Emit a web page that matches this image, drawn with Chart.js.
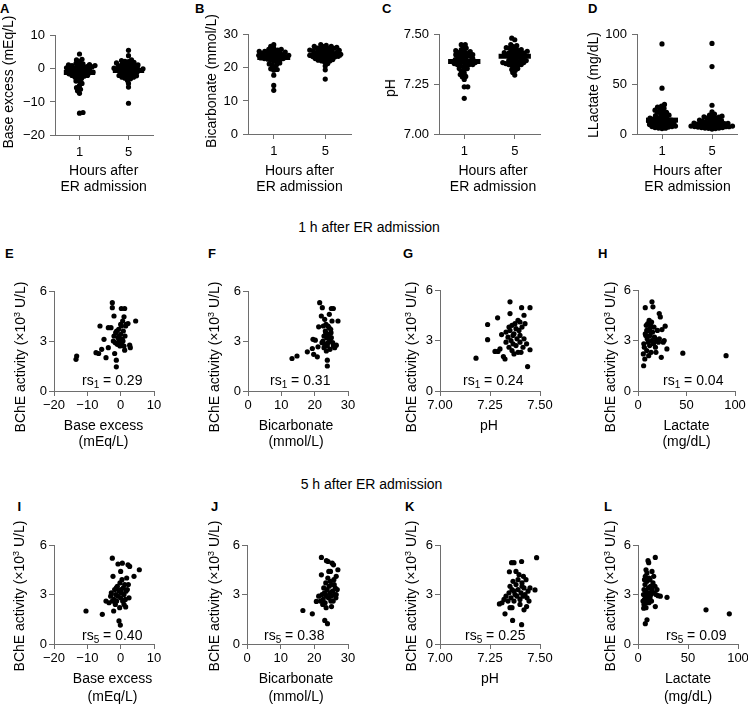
<!DOCTYPE html>
<html><head><meta charset="utf-8">
<script src="https://cdn.jsdelivr.net/npm/chart.js@4.4.1/dist/chart.umd.min.js"></script>
<style>
html,body{margin:0;padding:0;background:#fff}
body{width:748px;height:705px;overflow:hidden;position:relative;font-family:"Liberation Sans",Arial,Helvetica,sans-serif;color:#000}
canvas{position:absolute}
.t{position:absolute;white-space:nowrap;font-size:14px;line-height:16px;text-align:center;transform:translateX(-50%)}
.yt{position:absolute;white-space:nowrap;font-size:14px;line-height:16px;transform:translate(-50%,-50%) rotate(-90deg)}
.lt{position:absolute;font-weight:bold;font-size:13px;line-height:13px}
.rs{position:absolute;white-space:nowrap;font-size:14px;line-height:16px}
sub{font-size:10px;vertical-align:-3px;line-height:0}
sup{font-size:9px;vertical-align:5px;line-height:0}
</style></head><body>
<script>
// ---------------- DATA ----------------
const hourLabels = ['1', '5'];
const hourTicks = [0.5, 1.5];
const beTicks = [-20, -10, 0, 10];
const bicarbTicks = [0, 10, 20, 30];
const phTicks = [7.00, 7.25, 7.50];
const lactateTicks = [0, 50, 100];
const bcheTicks = [0, 3, 6];

// medians shown as bars in panels A-D  [1 h, 5 h]
const medBE = [-1.1, -0.5];
const medBicarb = [23.1, 23.9];
const medPH = [7.366, 7.392];
const medLactate = [14, 9];

// 1 h after admission (panels E-H; x values also used in A-D, group "1")
const be1 = [-13.4,-13.2,-7.4,-6.6,-6.2,-5.7,-5.0,-4.4,-3.7,-3.7,-2.9,-2.5,-2.5,-2.0,-1.8,-1.3,-1.3,-2.2,-2.0,-1.6,-1.2,-1.0,-0.8,-0.6,-0.4,-0.2,0.0,0.0,0.2,0.2,0.3,0.5,0.6,0.8,1.0,1.0,1.2,1.2,1.3,1.5,1.7,2.2,2.7,2.9,4.5,-1.5,-0.5,0.7];
const bcheBE1 = [1.9,2.1,2.3,2.25,3.9,2.5,3.1,2.0,2.6,3.8,3.8,5.3,5.0,4.5,2.25,1.85,1.45,3.0,3.3,2.9,3.6,2.8,3.2,3.7,3.0,2.7,4.0,3.4,4.95,3.9,2.9,3.1,4.2,3.6,4.45,2.7,4.95,2.45,3.3,3.9,4.0,4.05,2.75,2.6,4.2,3.5,3.3,3.0];

const bicarb1 = [13.2,14.7,17.8,19.3,19.7,20.8,19.5,20.2,21.0,21.5,22.3,21.2,22.0,23.8,23.8,25.0,25.6,27.0,26.5,26.0,22.5,22.8,23.0,23.2,23.4,23.6,23.8,24.0,24.2,24.4,24.5,24.6,24.8,25.0,25.2,25.4,22.6,23.0,23.5,24.0,24.9,25.6,22.2,23.3,24.3,22.8];
const bcheBicarb1 = [1.95,2.1,2.35,2.55,2.2,2.05,3.1,3.05,2.65,5.3,5.0,3.85,4.5,1.85,1.5,4.95,4.95,4.2,2.75,2.6,3.0,3.3,2.8,3.6,4.0,3.2,2.7,3.9,3.4,4.6,3.0,2.5,3.7,3.2,4.2,2.9,3.9,4.3,2.4,2.9,3.5,2.7,2.9,3.5,3.8,2.6];

const ph1 = [7.18,7.238,7.238,7.288,7.275,7.29,7.30,7.317,7.325,7.308,7.35,7.35,7.408,7.45,7.42,7.438,7.45,7.433,7.33,7.34,7.345,7.35,7.355,7.36,7.365,7.37,7.375,7.38,7.385,7.39,7.395,7.40,7.40,7.405,7.41,7.415,7.42,7.425,7.36,7.38,7.39,7.33,7.37,7.40,7.345,7.365];
const bchePH1 = [1.95,3.95,3.05,4.35,2.35,2.35,2.5,2.05,1.9,3.35,5.3,4.6,4.95,4.95,4.5,1.45,2.45,2.8,2.9,3.2,2.6,3.6,3.0,3.9,2.8,3.4,4.0,2.7,3.1,4.2,3.6,2.9,3.3,2.3,3.8,2.6,3.1,4.0,2.4,3.7,2.3,3.5,2.2,4.1,3.8,3.3];

const lactate1 = [5.8,7.5,14.4,15.4,21.9,23.0,24.7,28.0,29.8,24.0,46.2,90.8,5.5,6.0,6.5,7.0,8.0,8.5,9.0,9.5,10.0,10.5,11.0,11.5,12.0,12.5,13.0,13.5,14.0,15.0,16.0,17.0,18.0,19.0,20.0,21.0,22.0,26.0,27.0,9.0,12.0,14.0,16.5,7.5,18.5,11.0];
const bcheLactate1 = [1.5,4.95,5.3,5.0,4.6,4.4,3.65,3.85,2.5,2.0,2.25,2.1,2.2,2.8,2.6,1.9,3.3,3.9,2.4,3.1,4.0,2.9,3.6,4.2,2.7,3.3,3.9,2.3,3.0,3.5,2.8,3.2,2.6,3.0,3.6,2.9,3.1,2.9,3.0,3.6,3.7,4.1,3.8,3.4,2.3,2.1];

// 5 h after admission (panels I-L; x values also used in A-D, group "5")
const be5 = [-10.4,-5.5,-2.5,-2.3,-4.4,-3.5,-2.1,-0.8,0.5,2.2,2.7,0.0,5.6,4.0,-0.5,-0.1,1.5,-0.3,2.5,-3.0,-2.8,-2.0,-1.8,-1.5,-1.2,-1.0,-0.8,-0.5,-0.2,0.0,0.2,0.4,0.6,0.8,1.0,1.2,1.4,1.6,1.8,2.0,2.3,-1.3,0.1,-2.5,1.0,-1.6];
const bcheBE5 = [2.0,1.8,5.2,4.1,2.6,2.5,2.0,4.85,4.9,4.8,4.7,4.4,4.5,4.1,1.4,1.15,2.25,2.2,2.8,2.9,3.1,2.7,3.3,3.0,2.6,3.5,2.9,3.2,3.7,2.8,3.1,3.9,2.6,3.4,3.0,3.6,2.7,3.2,4.0,3.3,3.6,3.4,3.3,2.6,2.4,2.4];

const bicarb5 = [16.6,19.4,22.1,22.1,23.6,24.1,25.3,25.7,27.0,26.5,23.1,23.9,25.1,20.6,21.3,21.8,22.3,22.6,22.8,23.0,23.2,23.4,23.6,23.8,24.0,24.2,24.4,24.6,24.8,25.0,25.2,25.4,25.6,25.8,26.0,26.2,26.4,26.8,24.3,23.5,22.5,24.7,25.9,23.3,24.9,26.5];
const bcheBicarb5 = [2.03,1.83,5.25,4.19,5.05,5.0,4.9,4.8,4.5,4.1,1.43,1.23,2.27,2.58,2.9,2.6,3.0,2.7,3.4,3.1,2.5,3.7,2.9,3.3,4.0,2.8,3.5,3.1,4.4,2.9,3.6,3.2,2.6,3.9,3.0,3.4,2.8,3.3,4.4,2.2,2.4,3.8,3.6,3.0,2.6,3.0];

const ph5 = [7.297,7.325,7.363,7.408,7.483,7.358,7.37,7.408,7.347,7.417,7.433,7.42,7.475,7.31,7.32,7.33,7.34,7.345,7.35,7.355,7.36,7.365,7.37,7.375,7.38,7.385,7.39,7.395,7.40,7.405,7.41,7.415,7.42,7.425,7.43,7.44,7.45,7.36,7.38,7.40,7.39,7.35,7.435,7.37,7.41,7.445];
const bchePH5 = [2.43,1.83,1.43,1.17,5.23,4.93,4.93,5.0,4.38,4.1,2.27,2.07,3.28,2.5,2.7,2.9,2.6,3.1,3.5,2.8,3.3,3.8,2.6,3.0,3.6,2.9,3.3,4.2,2.7,3.1,3.7,2.9,3.4,3.0,3.9,3.2,3.4,2.2,4.4,2.4,3.9,2.2,2.8,3.2,3.5,2.6];

const lactate5 = [17.3,10.0,10.7,8.0,7.3,14.0,15.7,29.0,68.0,91.3,9.0,7.3,5.7,17.3,20.0,22.3,5.0,5.5,6.0,6.5,7.0,7.5,8.0,8.5,9.0,9.5,10.0,10.5,11.0,11.5,12.0,12.5,13.0,14.0,15.0,16.0,17.0,18.0,6.0,9.0,12.0,8.0,13.5,19.0,6.5,11.0];
const bcheLactate5 = [5.25,5.05,4.93,4.5,4.1,4.4,4.1,2.83,2.07,1.83,1.47,1.23,2.17,2.27,2.93,2.9,2.6,3.0,3.3,2.7,3.6,2.9,3.2,2.5,3.8,3.0,2.7,3.4,4.0,3.1,2.8,3.5,3.0,3.3,3.7,3.1,3.5,3.0,2.4,4.3,3.9,2.2,2.6,3.3,3.9,2.5];

// ---------------- RENDERING ----------------
Chart.defaults.font.family = "'Liberation Sans', Arial, Helvetica, sans-serif";
Chart.defaults.font.size = 13;
Chart.defaults.color = '#000';
const AXIS = '#6e6e6e';

function fmt(dec) {
  return v => (dec ? Number(v).toFixed(dec) : String(v)).replace('-', '\u2212');
}
function axis(min, max, ticks, cb, pad) {
  return {
    type: 'linear', min, max,
    afterBuildTicks: s => { s.ticks = ticks.map(v => ({ value: v })); },
    ticks: { callback: cb, padding: pad, autoSkip: false, maxRotation: 0, color: '#000', font: { size: 13 } },
    grid: { drawOnChartArea: false, drawTicks: true, tickLength: 5, color: AXIS, lineWidth: 1 },
    border: { display: true, color: AXIS, width: 1 }
  };
}
function makePanel(a, xAxis, yAxis, datasets) {
  const PL = 56, PT = 12, PR = 26, PB = 34;
  const c = document.createElement('canvas');
  const w = (a.R - a.L) + PL + PR, h = (a.B - a.T) + PT + PB;
  c.width = w; c.height = h;
  c.style.left = (a.L - PL) + 'px'; c.style.top = (a.T - PT) + 'px';
  c.style.width = w + 'px'; c.style.height = h + 'px';
  document.body.appendChild(c);
  xAxis.afterFit = s => { s.height = PB; };
  yAxis.afterFit = s => { s.width = PL; };
  new Chart(c, {
    type: 'scatter',
    data: { datasets },
    options: {
      responsive: false, animation: false, devicePixelRatio: 1, events: [],
      layout: { padding: { left: 0, top: PT, right: PR, bottom: 0 } },
      plugins: { legend: { display: false }, tooltip: { enabled: false } },
      scales: { x: xAxis, y: yAxis }
    }
  });
}
// beeswarm layout: horizontal offsets (px) so dots of one group do not pile up
function swarm(vals, lo, hi, h, d) {
  const idx = vals.map((v, i) => i).sort((p, q) => vals[p] - vals[q]);
  const placed = [], off = new Array(vals.length);
  for (const i of idx) {
    const y = (vals[i] - lo) / (hi - lo) * h;
    let best = 0;
    for (let k = 0; k < 400; k++) {
      const cands = k === 0 ? [0] : (k % 2 ? [k * 0.5, -k * 0.5] : [-k * 0.5, k * 0.5]);
      let f = null;
      for (const x of cands) {
        if (placed.every(p => (p.x - x) ** 2 + (p.y - y) ** 2 >= d * d)) { f = x; break; }
      }
      if (f !== null) { best = f; break; }
    }
    off[i] = best; placed.push({ x: best, y });
  }
  return off;
}
function pointsDS(data) {
  return { type: 'scatter', data, pointRadius: 2.6, pointBackgroundColor: '#000', pointBorderWidth: 0, borderWidth: 0, clip: false };
}
function dotPanel(a, groups, meds, lo, hi, yTicks, dec) {
  const pxX = (a.R - a.L) / 2, h = a.B - a.T;
  const pts = [];
  groups.forEach((vals, gi) => {
    const off = swarm(vals, lo, hi, h, 3.1);
    vals.forEach((v, i) => pts.push({ x: hourTicks[gi] + off[i] / pxX, y: v }));
  });
  const bars = meds.map((m, gi) => ({
    type: 'line', data: [{ x: hourTicks[gi] - 0.32, y: m }, { x: hourTicks[gi] + 0.32, y: m }],
    borderColor: '#000', borderWidth: 5, pointRadius: 0, borderCapStyle: 'butt', clip: false, showLine: true
  }));
  makePanel(a,
    axis(0, 2, hourTicks, (v, i) => hourLabels[i], 5),
    axis(lo, hi, yTicks, fmt(dec), 5),
    [...bars, pointsDS(pts)]);
}
function scatterPanel(a, xs, ys, lo, hi, xTicks, dec) {
  makePanel(a,
    axis(lo, hi, xTicks, fmt(dec), 2),
    axis(0, 6, bcheTicks, fmt(0), 2),
    [pointsDS(xs.map((x, i) => ({ x, y: ys[i] })))]);
}

// top row
dotPanel({ L: 55, T: 35, R: 153, B: 135 }, [be1, be5], medBE, -20, 10, beTicks, 0);
dotPanel({ L: 248, T: 34, R: 351, B: 134 }, [bicarb1, bicarb5], medBicarb, 0, 30, bicarbTicks, 0);
dotPanel({ L: 439, T: 34, R: 540, B: 134 }, [ph1, ph5], medPH, 7.0, 7.5, phTicks, 2);
dotPanel({ L: 637, T: 34, R: 737, B: 134 }, [lactate1, lactate5], medLactate, 0, 100, lactateTicks, 0);
// middle row
scatterPanel({ L: 54, T: 291, R: 154, B: 391 }, be1, bcheBE1, -20, 10, beTicks, 0);
scatterPanel({ L: 248, T: 291, R: 348, B: 391 }, bicarb1, bcheBicarb1, 0, 30, bicarbTicks, 0);
scatterPanel({ L: 440, T: 290, R: 540, B: 391 }, ph1, bchePH1, 7.0, 7.5, phTicks, 2);
scatterPanel({ L: 638, T: 290, R: 735, B: 391 }, lactate1, bcheLactate1, 0, 100, lactateTicks, 0);
// bottom row
scatterPanel({ L: 54, T: 545, R: 154, B: 644 }, be5, bcheBE5, -20, 10, beTicks, 0);
scatterPanel({ L: 247, T: 545, R: 348, B: 644 }, bicarb5, bcheBicarb5, 0, 30, bicarbTicks, 0);
scatterPanel({ L: 440, T: 545, R: 540, B: 644 }, ph5, bchePH5, 7.0, 7.5, phTicks, 2);
scatterPanel({ L: 638, T: 545, R: 738, B: 644 }, lactate5, bcheLactate5, 0, 100, lactateTicks, 0);

// ---------------- TEXT ----------------
function el(cls, html, style) {
  const d = document.createElement('div');
  d.className = cls; d.innerHTML = html;
  Object.assign(d.style, style);
  document.body.appendChild(d);
}
const bcheTitle = 'BChE activity (\u00d710<sup>3</sup> U/L)';
[
  ['A', 0, 1.5], ['B', 195, 2], ['C', 382, 2], ['D', 588, 1.5],
  ['E', 5, 247], ['F', 208, 247], ['G', 403, 247], ['H', 598, 247],
  ['I', 17.5, 500], ['J', 211, 500], ['K', 405, 500], ['L', 604, 500]
].forEach(([t, x, y]) => el('lt', t, { left: x + 'px', top: y + 'px' }));

el('t', '1 h after ER admission', { left: '369px', top: '219px' });
el('t', '5 h after ER admission', { left: '371.5px', top: '476px' });

// y titles
[
  ['Base excess (mEq/L)', 7.5, 82], ['Bicarbonate (mmol/L)', 211, 81], ['pH', 390, 88], ['LLactate (mg/dL)', 593, 85],
  [bcheTitle, 20, 357], [bcheTitle, 214, 357], [bcheTitle, 411, 357], [bcheTitle, 610, 357],
  [bcheTitle, 19, 596], [bcheTitle, 214, 596], [bcheTitle, 411, 596], [bcheTitle, 610, 596]
].forEach(([t, x, y]) => el('yt', t, { left: x + 'px', top: y + 'px' }));

// x titles
const hrs = 'Hours after<br>ER admission';
[[hrs, 103.7], [hrs, 299.5], [hrs, 493], [hrs, 687.5]].forEach(([t, x]) => el('t', t, { left: x + 'px', top: '161.5px', lineHeight: '16.5px' }));
[['Base excess<br>(mEq/L)', 103.5], ['Bicarbonate<br>(mmol/L)', 296], ['pH', 489], ['Lactate<br>(mg/dL)', 686.5]].forEach(([t, x]) => el('t', t, { left: x + 'px', top: '417px', lineHeight: '16px' }));
[['Base excess<br>(mEq/L)', 112.5], ['Bicarbonate<br>(mmol/L)', 296], ['pH', 490], ['Lactate<br>(mg/dL)', 688]].forEach(([t, x]) => el('t', t, { left: x + 'px', top: '670px', lineHeight: '17.5px' }));

// correlation labels
[
  ['rs<sub>1</sub> = 0.29', 82, 371.5], ['rs<sub>1</sub> = 0.31', 270, 371.5], ['rs<sub>1</sub> = 0.24', 463, 371.5], ['rs<sub>1</sub> = 0.04', 663, 371.5],
  ['rs<sub>5</sub> = 0.40', 82, 626.5], ['rs<sub>5</sub> = 0.38', 264, 626.5], ['rs<sub>5</sub> = 0.25', 465, 626.5], ['rs<sub>5</sub> = 0.09', 666, 626.5]
].forEach(([t, x, y]) => el('rs', t, { left: x + 'px', top: y + 'px' }));
</script>
</body></html>
